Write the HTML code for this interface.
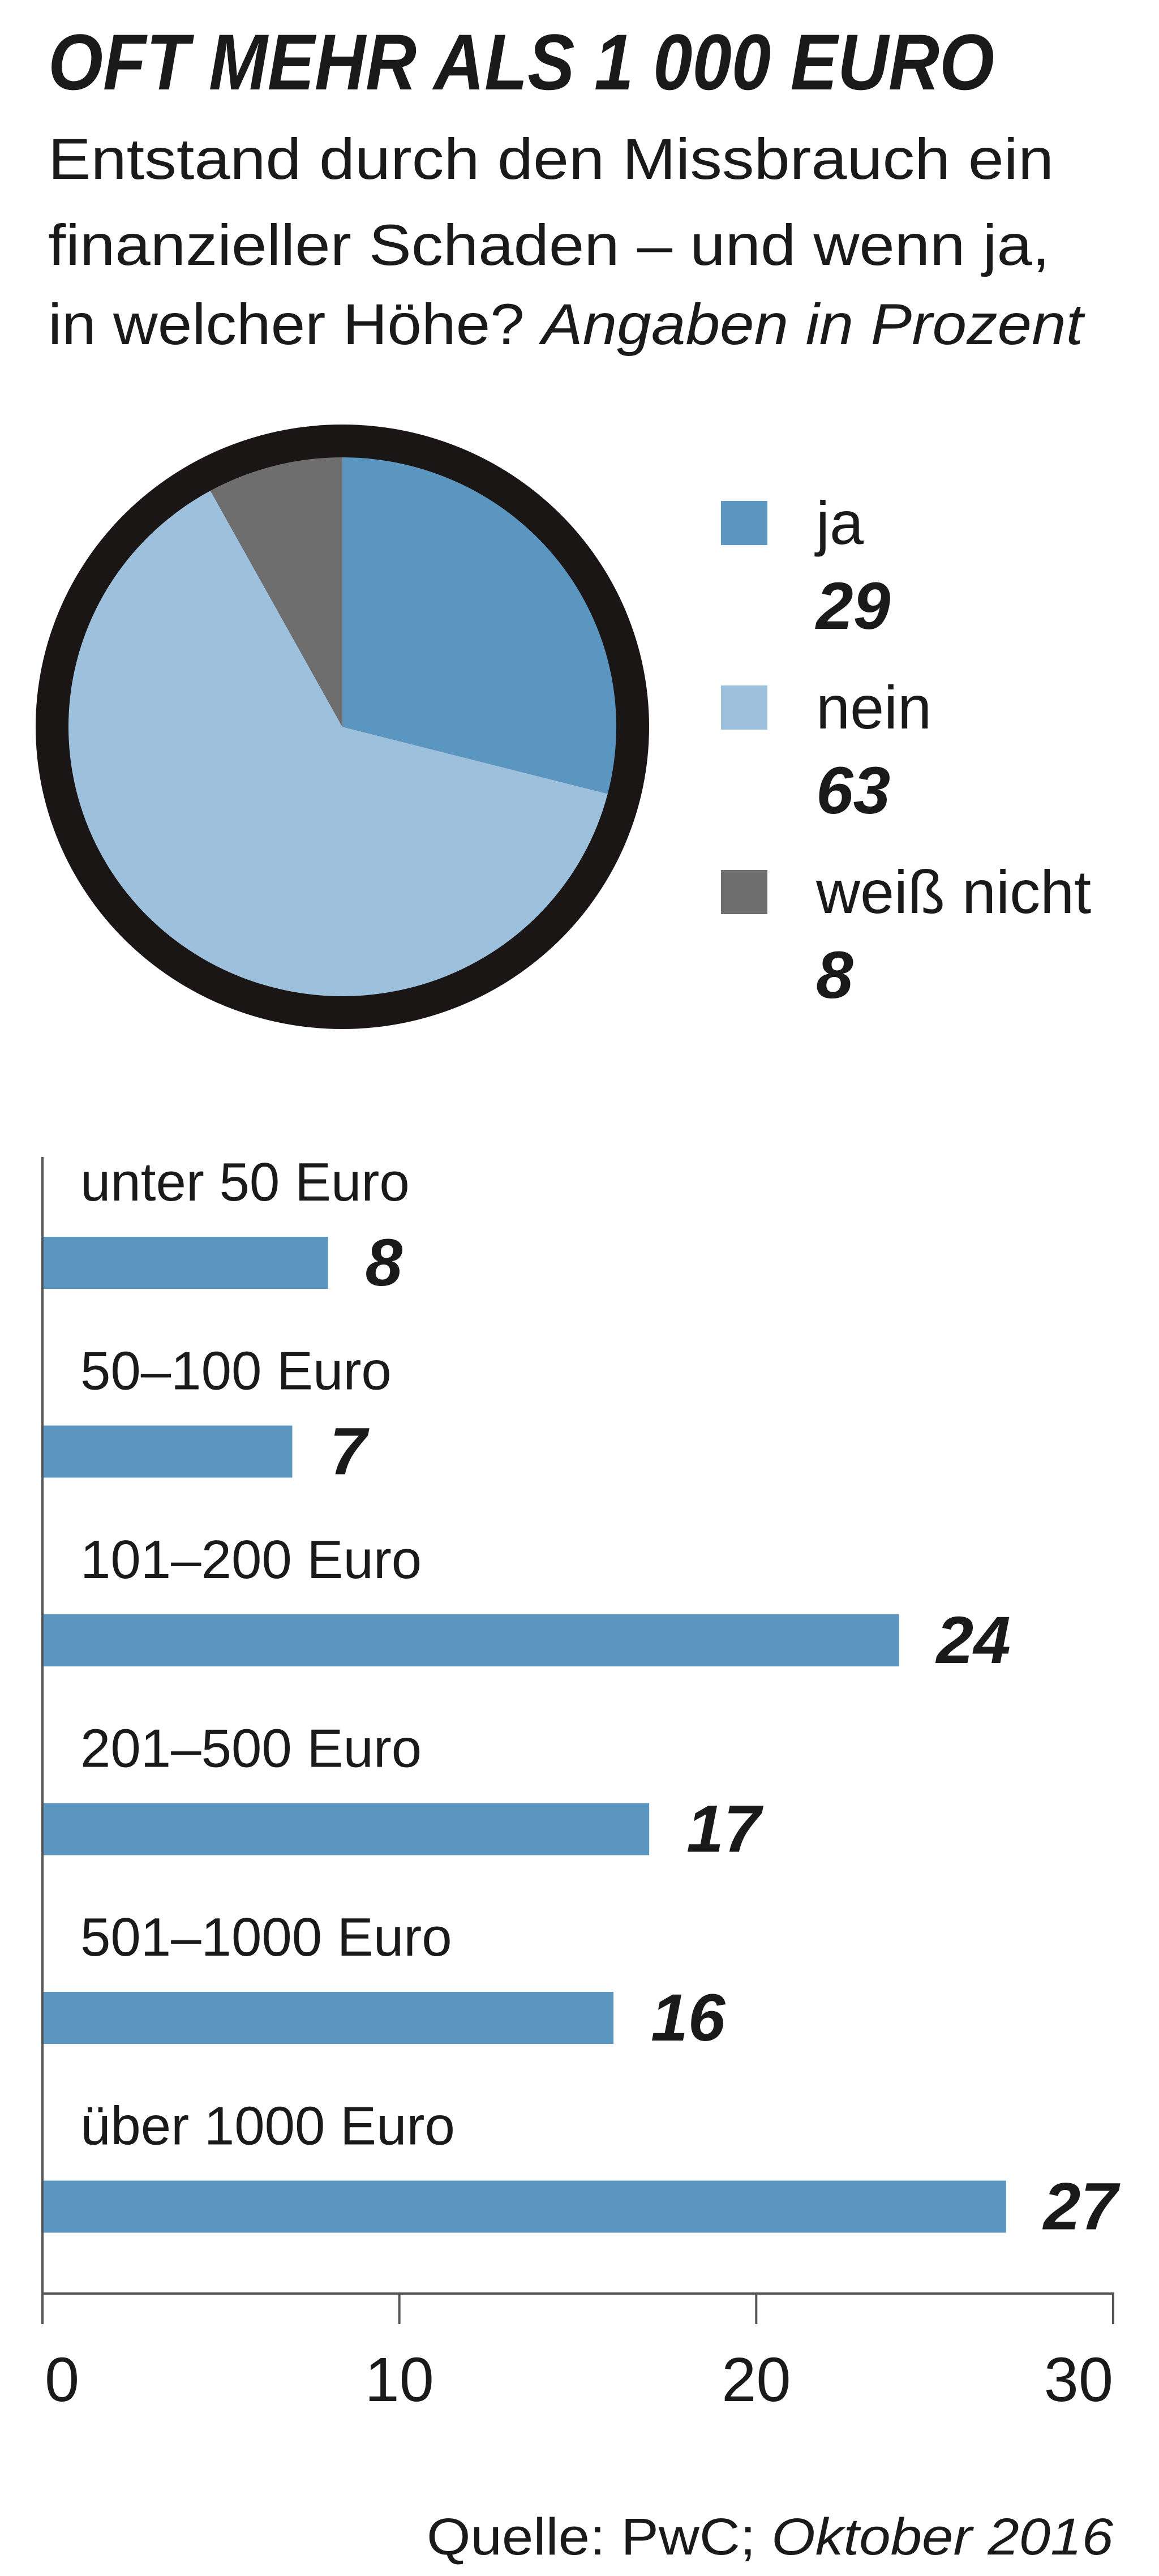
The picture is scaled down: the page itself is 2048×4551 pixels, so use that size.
<!DOCTYPE html>
<html><head><meta charset="utf-8"><style>
html,body{margin:0;padding:0;background:#fff;}
svg{display:block;}
text{font-family:"Liberation Sans Narrow","Liberation Sans",sans-serif;fill:#1a1a1a;}
</style></head><body>
<svg id="chart" width="2048" height="4551" viewBox="0 0 2048 4551" xmlns="http://www.w3.org/2000/svg">
<rect width="2048" height="4551" fill="#fff"/>
<text x="85" y="158" font-size="140" font-weight="bold" font-style="italic" textLength="1672" lengthAdjust="spacingAndGlyphs">OFT MEHR ALS 1 000 EURO</text>
<text x="85" y="316" font-size="102" textLength="1777" lengthAdjust="spacingAndGlyphs">Entstand durch den Missbrauch ein</text>
<text x="85" y="468" font-size="102" textLength="1770" lengthAdjust="spacingAndGlyphs">finanzieller Schaden – und wenn ja,</text>
<text x="85" y="608" font-size="102" textLength="1829" lengthAdjust="spacingAndGlyphs">in welcher Höhe? <tspan font-style="italic">Angaben in Prozent</tspan></text>
<g id="pie"></g>
<g id="legend"></g>
<g id="bars"></g>
<text x="1967" y="4513" font-size="92" text-anchor="end" textLength="1213" lengthAdjust="spacingAndGlyphs">Quelle: PwC; <tspan font-style="italic">Oktober 2016</tspan></text>
</svg>
<script>
const pieLabels = ["ja", "nein", "weiß nicht"];
const pieValues = [29, 63, 8];
const pieColors = ["#5b96c1", "#9dc0dd", "#6e6e6e"];
const barCategories = ["unter 50 Euro", "50–100 Euro", "101–200 Euro", "201–500 Euro", "501–1000 Euro", "über 1000 Euro"];
const barValues = [8, 7, 24, 17, 16, 27];
const tickValues = [0, 10, 20, 30];
const tickLabels = ["0", "10", "20", "30"];

const NS = "http://www.w3.org/2000/svg";
function mk(tag, attrs, parent, text) {
  const e = document.createElementNS(NS, tag);
  for (const k in attrs) e.setAttribute(k, attrs[k]);
  if (text !== undefined) e.textContent = text;
  parent.appendChild(e);
  return e;
}

// Pie
const pie = document.getElementById('pie');
const cx = 605, cy = 1284, rx = 484, ry = 476, ringW = 58;
const ring = mk('ellipse', {cx: cx, cy: cy, rx: rx + ringW, ry: ry + ringW, fill: "#1b1616"}, pie);


const total = pieValues.reduce((a, b) => a + b, 0);
let acc = 0;
pieValues.forEach((v, i) => {
  const a0 = acc / total * 2 * Math.PI; acc += v;
  const a1 = acc / total * 2 * Math.PI;
  const x0 = cx + rx * Math.sin(a0), y0 = cy - ry * Math.cos(a0);
  const x1 = cx + rx * Math.sin(a1), y1 = cy - ry * Math.cos(a1);
  const large = (a1 - a0) > Math.PI ? 1 : 0;
  const p = mk('path', {d: `M${cx},${cy} L${x0},${y0} A${rx},${ry} 0 ${large} 1 ${x1},${y1} Z`, fill: pieColors[i]}, pie);
  
  
});

// Legend
const legend = document.getElementById('legend');
const legendTop = 885, legendPitch = 326;
pieLabels.forEach((lab, i) => {
  const y = legendTop + i * legendPitch;
  const sw = mk('rect', {x: 1274, y: y, width: 82, height: 78, fill: pieColors[i]}, legend);
  
  
  const t = mk('text', {x: 1442, y: y + 76, 'font-size': 108}, legend, lab);
  
  
  const n = mk('text', {x: 1442, y: y + 226, 'font-size': 118, 'font-weight': 'bold', 'font-style': 'italic'}, legend, String(pieValues[i]));
  
  
});

// Bars
const bars = document.getElementById('bars');
const x0px = 75, pxPerUnit = (1967 - 75) / 30;
const xScale = v => x0px + v * pxPerUnit;
const barTop0 = 2185, barPitch = 333.5, barH = 92;
const yScale = i => barTop0 + i * barPitch;
const axisBottom = 4052;

barCategories.forEach((cat, i) => {
  const y = yScale(i);
  const l = mk('text', {x: 142, y: y - 64, 'font-size': 96}, bars, cat);
  
  
  const r = mk('rect', {x: x0px, y: y, width: xScale(barValues[i]) - x0px, height: barH, fill: "#5b96c1"}, bars);
  
  
  const v = mk('text', {x: xScale(barValues[i]) + 66, y: y + 86, 'font-size': 118, 'font-weight': 'bold', 'font-style': 'italic'}, bars, String(barValues[i]));
  
  
});

const yAxis = mk('line', {x1: x0px, y1: 2044, x2: x0px, y2: axisBottom, stroke: "#555", 'stroke-width': 4}, bars);


const xAxis = mk('line', {x1: x0px - 2, y1: axisBottom, x2: xScale(30) + 2, y2: axisBottom, stroke: "#555", 'stroke-width': 4}, bars);



tickValues.forEach((tv, i) => {
  const x = xScale(tv);
  const tk = mk('line', {x1: x, y1: axisBottom, x2: x, y2: axisBottom + 54, stroke: "#555", 'stroke-width': 4}, bars);
  
  
  const anchor = i === 0 ? 'start' : (i === tickValues.length - 1 ? 'end' : 'middle');
  const tl = mk('text', {x: i === 0 ? x + 4 : x, y: 4242, 'font-size': 110, 'text-anchor': anchor}, bars, tickLabels[i]);
  
  
});
</script>
</body></html>
